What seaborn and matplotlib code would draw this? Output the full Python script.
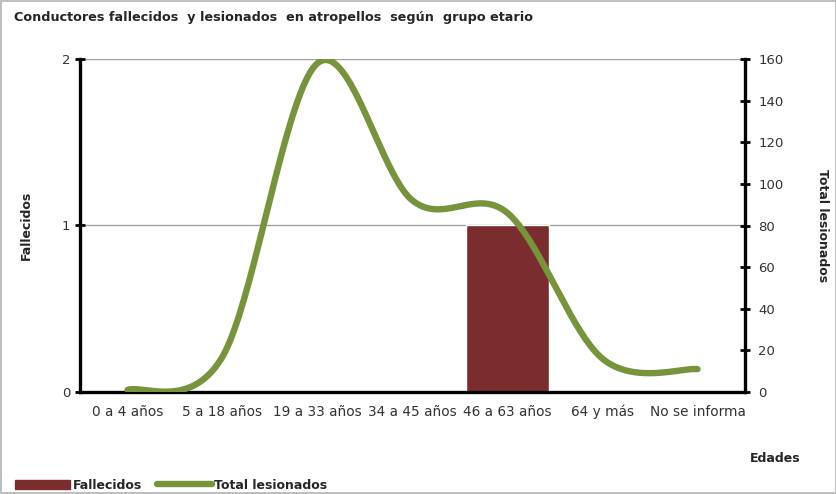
import numpy as np
import pandas as pd
import seaborn as sns
import matplotlib
matplotlib.use('Agg')
import matplotlib.pyplot as plt
from matplotlib.patches import Patch
from matplotlib.lines import Line2D

categories = ['0 a 4 años', '5 a 18 años', '19 a 33 años', '34 a 45 años',
              '46 a 63 años', '64 y más', 'No se informa']
fallecidos = [0, 0, 0, 0, 1, 0, 0]
lesionados = [1, 17, 158, 92, 86, 16, 11]

bar_color = '#7B2C2F'
line_color = '#77933C'


def smooth(xs, ys, n=40):
    # bezier smoothing like the spreadsheet "smoothed line"
    P = np.c_[xs, ys].astype(float)
    P = np.vstack([P[0], P, P[-1]])
    out = []
    t = np.linspace(0, 1, n)[:, None]
    for i in range(1, len(P) - 2):
        p0, p1 = P[i], P[i + 1]
        c1 = p0 + (P[i + 1] - P[i - 1]) / 6
        c2 = p1 - (P[i + 2] - P[i]) / 6
        seg = (1 - t) ** 3 * p0 + 3 * (1 - t) ** 2 * t * c1 + 3 * (1 - t) * t ** 2 * c2 + t ** 3 * p1
        out.append(seg if i == 1 else seg[1:])
    out = np.vstack(out)
    return out[:, 0], out[:, 1]


sns.set_style('white')
plt.rcParams['font.family'] = ['DejaVu Sans']

fig = plt.figure(figsize=(8.37, 4.94), dpi=100)
fig.patch.set_edgecolor('#BFBFBF')
fig.patch.set_linewidth(1.5)
ax = fig.add_axes([80 / 837, 102 / 494, 665 / 837, 333 / 494])

df = pd.DataFrame({'Edad': categories, 'Fallecidos': fallecidos})
sns.barplot(data=df, x='Edad', y='Fallecidos', order=categories, color=bar_color,
            saturation=1, width=0.87, ax=ax, zorder=2)
ax.set_xlim(-0.5, 6.5)
ax.set_ylim(0, 2)
ax.set_yticks([0, 1, 2])
ax.yaxis.grid(True, color='#A0A0A0', lw=1)
ax.set_axisbelow(True)
ax.set_xticks(np.arange(-0.5, 7, 1))
ax.set_xticklabels([])
ax.set_xticks(range(7), minor=True)
ax.set_xticklabels(categories, minor=True)
ax.tick_params(axis='x', which='minor', length=0, pad=17, labelsize=9.8, labelcolor='#333333')
for lab in ax.get_xticklabels(minor=True):
    lab.set_va('baseline')
ax.tick_params(axis='both', which='major', direction='inout', length=7, width=2, color='black',
               labelsize=9.5, labelcolor='#333333')
ax.set_xlabel('')
ax.set_ylabel('Fallecidos', fontsize=9, fontweight='bold', labelpad=21)
for s in ['left', 'bottom']:
    ax.spines[s].set_linewidth(2.4)
    ax.spines[s].set_color('black')
ax.spines['top'].set_visible(False)
ax.spines['right'].set_visible(False)

ax2 = ax.twinx()
sx, sy = smooth(np.arange(7), lesionados)
sns.lineplot(x=sx, y=sy, sort=False, color=line_color, lw=4.6, ax=ax2,
             solid_capstyle='round', zorder=3)
ax2.set_ylim(0, 160)
ax2.set_yticks(range(0, 161, 20))
ax2.tick_params(axis='y', direction='inout', length=7, width=2, color='black',
                labelsize=9.5, labelcolor='#333333', pad=6)
ax2.set_ylabel('Total lesionados', fontsize=9, fontweight='bold', rotation=-90, labelpad=33)
ax2.spines['right'].set_linewidth(2.4)
ax2.spines['right'].set_color('black')
for s in ['top', 'left', 'bottom']:
    ax2.spines[s].set_visible(False)
ax2.set_xlim(-0.5, 6.5)

fig.text(14 / 837, 1 - 17 / 494, 'Conductores fallecidos  y lesionados  en atropellos  según  grupo etario',
         fontsize=9.2, fontweight='bold', va='center', ha='left')
fig.text(750 / 837, 1 - 458 / 494, 'Edades', fontsize=9, fontweight='bold', va='center', ha='left')

handles = [Patch(color=bar_color), Line2D([], [], color=line_color, lw=4.6)]
fig.legend(handles, ['Fallecidos', 'Total lesionados'], loc='center left',
           bbox_to_anchor=(15 / 837, 1 - 485 / 494), ncol=2, frameon=False,
           prop={'weight': 'bold', 'size': 9}, handlelength=4.4, handletextpad=0.2,
           columnspacing=1.2, borderaxespad=0, borderpad=0)

fig.savefig('out.png', dpi=100)
